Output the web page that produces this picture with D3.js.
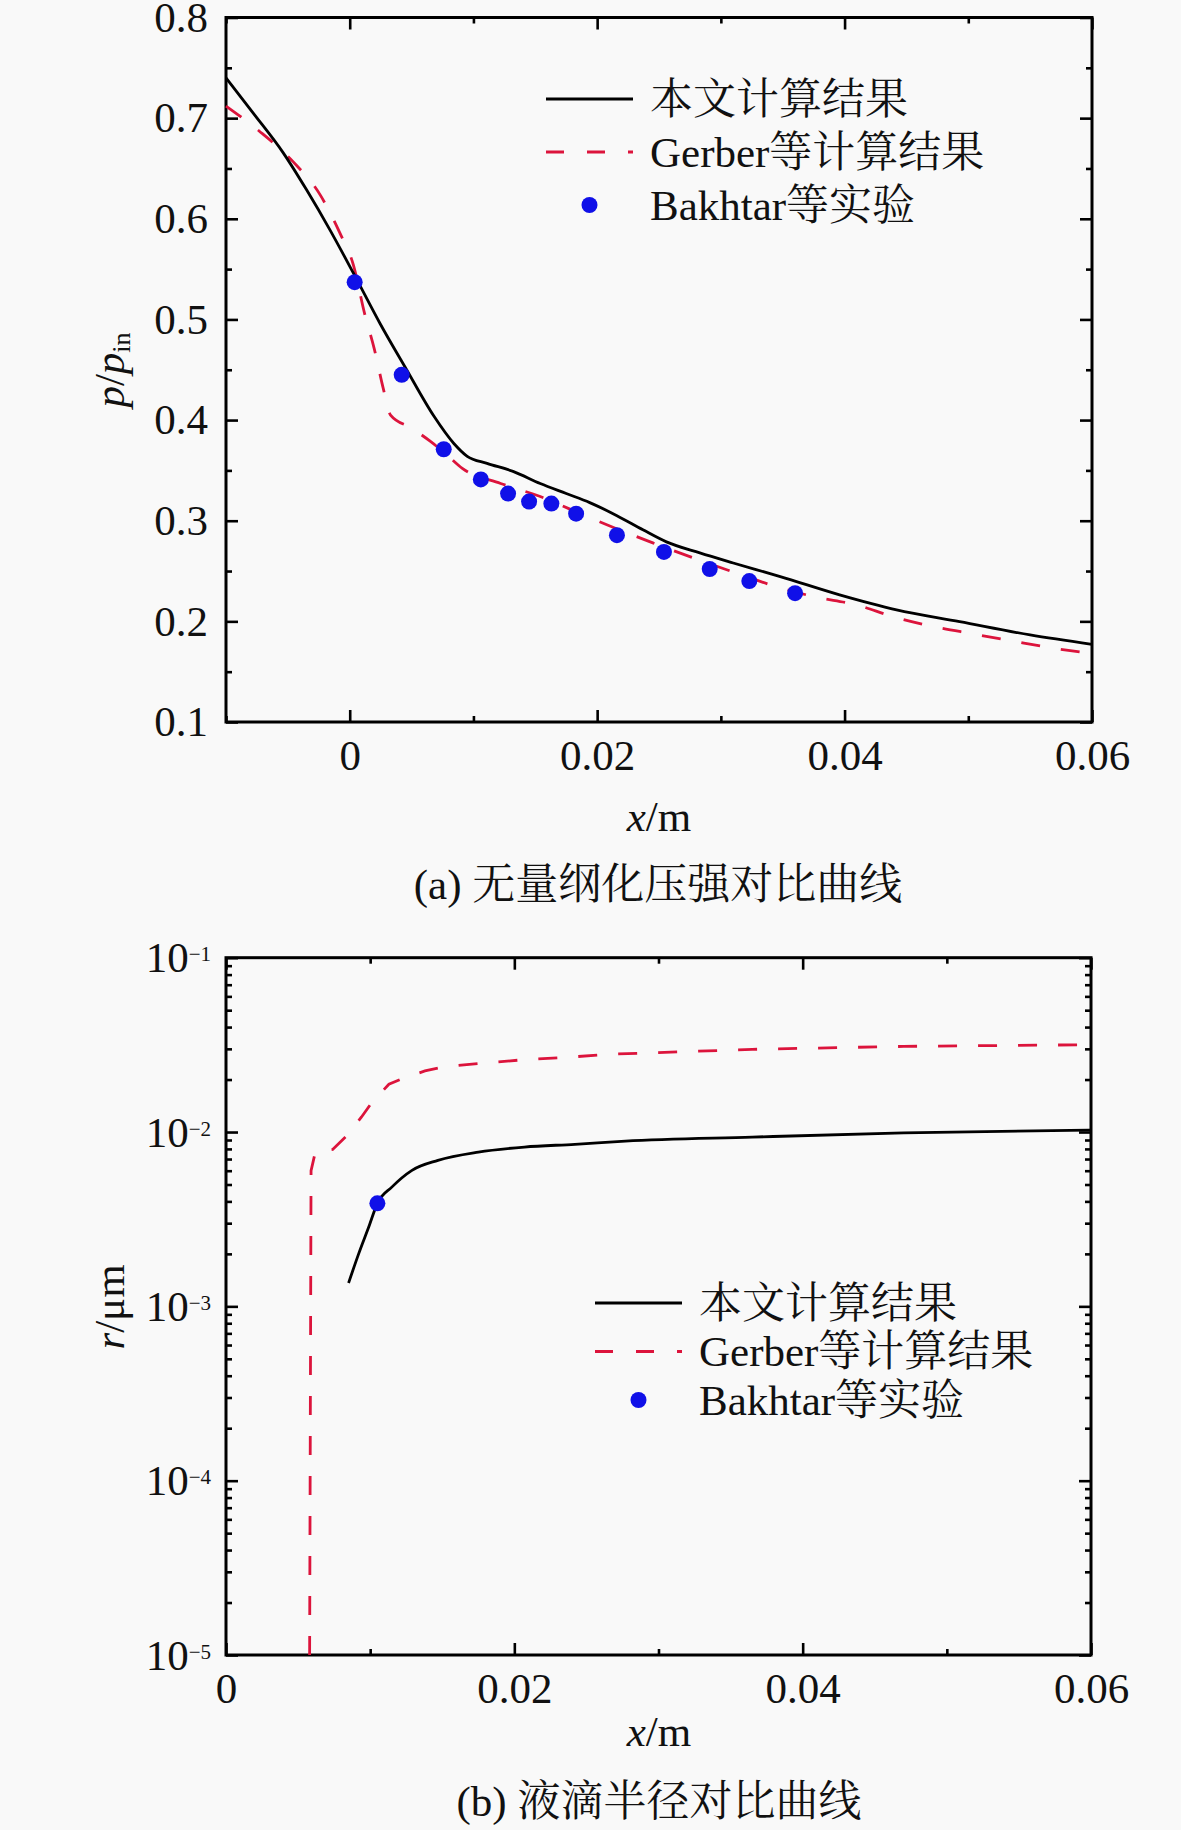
<!DOCTYPE html>
<html><head><meta charset="utf-8">
<script src="https://cdn.jsdelivr.net/npm/d3@7/dist/d3.min.js"></script>
<style>html,body{margin:0;padding:0;background:#f9f9f9;}svg{display:block;}</style>
</head><body>
<script>
// ---------- data ----------
const legendLabels = ["本文计算结果", "Gerber等计算结果", "Bakhtar等实验"];

// panel (a): p/p_in vs x
const aXTicks = [0, 0.02, 0.04, 0.06];
const aXMinor = [-0.01, 0.01, 0.03, 0.05];
const aYTicks = [0.1, 0.2, 0.3, 0.4, 0.5, 0.6, 0.7, 0.8];
const aYMinor = [0.15, 0.25, 0.35, 0.45, 0.55, 0.65, 0.75];
const aSolid = [[-0.01,0.740],[-0.0078,0.705],[-0.0054,0.666],[-0.0035,0.629],[-0.0016,0.589],[0.0003,0.546],[0.00245,0.496],[0.0046,0.450],[0.0068,0.404],[0.0084,0.377],[0.0095,0.364],[0.0111,0.357],[0.0132,0.349],[0.0154,0.337],[0.0175,0.327],[0.0194,0.318],[0.0216,0.305],[0.0237,0.291],[0.0256,0.279],[0.0283,0.268],[0.031,0.258],[0.0348,0.2445],[0.0396,0.2263],[0.0442,0.2114],[0.0493,0.1997],[0.055,0.1865],[0.06,0.1772]];
const aDash = [[-0.01,0.712],[-0.0073,0.687],[-0.0046,0.657],[-0.0024,0.624],[-0.0008,0.586],[0.0003,0.554],[0.0012,0.506],[0.0020,0.470],[0.0027,0.432],[0.0033,0.405],[0.0050,0.392],[0.0065,0.379],[0.0078,0.366],[0.0091,0.352],[0.0122,0.337],[0.0154,0.324],[0.0192,0.304],[0.0224,0.288],[0.0245,0.278],[0.0278,0.263],[0.031,0.249],[0.0345,0.2345],[0.0375,0.2246],[0.041,0.2163],[0.0439,0.2047],[0.0472,0.1948],[0.0504,0.1875],[0.0538,0.1799],[0.0569,0.1733],[0.06,0.168]];
const aPoints = [[0.0004,0.537],[0.0042,0.445],[0.0076,0.371],[0.0106,0.341],[0.0128,0.327],[0.0145,0.319],[0.0163,0.317],[0.0183,0.307],[0.0216,0.2856],[0.0254,0.269],[0.0291,0.252],[0.0323,0.240],[0.0360,0.228]];

// panel (b): r/um vs x (log)
const bXTicks = [0, 0.02, 0.04, 0.06];
const bXMinor = [0.01, 0.03, 0.05];
const bYTicks = [1e-5, 1e-4, 1e-3, 1e-2, 1e-1];
const bYExp = ["−5", "−4", "−3", "−2", "−1"];
const bSolid = [[0.0085,1.36e-3],[0.0092,2.0e-3],[0.0099,2.85e-3],[0.0105,3.9e-3],[0.0115,4.83e-3],[0.0129,6.03e-3],[0.0147,6.88e-3],[0.0175,7.67e-3],[0.0207,8.2e-3],[0.0242,8.5e-3],[0.0277,8.87e-3],[0.0365,9.35e-3],[0.047,9.89e-3],[0.06,1.026e-2]];
const bDash = [[0.0058,1e-5],[0.0059,6e-3],[0.0062,7.7e-3],[0.0074,7.95e-3],[0.0083,9.4e-3],[0.0094,1.22e-2],[0.0101,1.47e-2],[0.0113,1.88e-2],[0.0124,2.05e-2],[0.0138,2.24e-2],[0.0151,2.37e-2],[0.018,2.49e-2],[0.0209,2.61e-2],[0.0236,2.68e-2],[0.0264,2.79e-2],[0.0365,2.98e-2],[0.047,3.10e-2],[0.06,3.17e-2]];
const bPoints = [[0.0105,3.9e-3]];

// ---------- drawing ----------
const W = 1181, H = 1830;
const SERIF = "'Liberation Serif','Times New Roman','Noto Serif CJK SC','Noto Sans CJK SC',serif";
const RED = "#dc143c", BLUE = "#1010e8";
const svg = d3.select("body").append("svg").attr("width", W).attr("height", H);
svg.append("rect").attr("width", W).attr("height", H).attr("fill", "#f9f9f9");

function styleAxis(g, showText) {
  g.select(".domain").remove();
  g.selectAll("line").attr("stroke", "#000").attr("stroke-width", 2.6);
  g.selectAll("text").attr("font-family", SERIF).attr("font-size", 43).attr("fill", "#111");
  if (!showText) g.selectAll("text").remove();
}

function frame(x, y, box, opts) {
  const {l, r, t, b} = box;
  // bottom major + minor
  svg.append("g").attr("transform", `translate(0,${b})`)
    .call(d3.axisBottom(x).tickValues(opts.xMajor).tickSize(-12).tickSizeOuter(0).tickPadding(17).tickFormat(opts.xFmt))
    .call(g => styleAxis(g, true));
  svg.append("g").attr("transform", `translate(0,${b})`)
    .call(d3.axisBottom(x).tickValues(opts.xMinor).tickSize(-6).tickSizeOuter(0).tickFormat(""))
    .call(g => styleAxis(g, false));
  // top mirror
  svg.append("g").attr("transform", `translate(0,${t})`)
    .call(d3.axisTop(x).tickValues(opts.xMajor).tickSize(-12).tickSizeOuter(0).tickFormat(""))
    .call(g => styleAxis(g, false));
  svg.append("g").attr("transform", `translate(0,${t})`)
    .call(d3.axisTop(x).tickValues(opts.xMinor).tickSize(-6).tickSizeOuter(0).tickFormat(""))
    .call(g => styleAxis(g, false));
  // left
  svg.append("g").attr("transform", `translate(${l},0)`)
    .call(d3.axisLeft(y).tickValues(opts.yMajor).tickSize(-12).tickSizeOuter(0).tickPadding(18).tickFormat(opts.yFmt || ""))
    .call(g => styleAxis(g, !!opts.yFmt));
  svg.append("g").attr("transform", `translate(${l},0)`)
    .call(d3.axisLeft(y).tickValues(opts.yMinor).tickSize(-6).tickSizeOuter(0).tickFormat(""))
    .call(g => styleAxis(g, false));
  // right mirror
  svg.append("g").attr("transform", `translate(${r},0)`)
    .call(d3.axisRight(y).tickValues(opts.yMajor).tickSize(-12).tickSizeOuter(0).tickFormat(""))
    .call(g => styleAxis(g, false));
  svg.append("g").attr("transform", `translate(${r},0)`)
    .call(d3.axisRight(y).tickValues(opts.yMinor).tickSize(-6).tickSizeOuter(0).tickFormat(""))
    .call(g => styleAxis(g, false));
  svg.append("rect").attr("x", l).attr("y", t).attr("width", r - l).attr("height", b - t)
    .attr("fill", "none").attr("stroke", "#000").attr("stroke-width", 3);
}

function drawSeries(x, y, solid, dash, pts, dashCurve) {
  const lineS = d3.line().x(d => x(d[0])).y(d => y(d[1])).curve(d3.curveMonotoneX);
  const lineD = d3.line().x(d => x(d[0])).y(d => y(d[1])).curve(dashCurve);
  svg.append("path").datum(dash).attr("d", lineD).attr("fill", "none")
    .attr("stroke", RED).attr("stroke-width", 2.8).attr("stroke-dasharray", "19,21");
  svg.append("path").datum(solid).attr("d", lineS).attr("fill", "none")
    .attr("stroke", "#000").attr("stroke-width", 2.8);
  svg.append("g").selectAll("circle").data(pts).join("circle")
    .attr("cx", d => x(d[0])).attr("cy", d => y(d[1])).attr("r", 8).attr("fill", BLUE);
}

function legend(x0, y0, dy) {
  const lx1 = x0, lx2 = x0 + 87, tx = x0 + 104;
  svg.append("line").attr("x1", lx1).attr("x2", lx2).attr("y1", y0).attr("y2", y0)
    .attr("stroke", "#000").attr("stroke-width", 2.8);
  svg.append("line").attr("x1", lx1).attr("x2", lx2).attr("y1", y0 + dy).attr("y2", y0 + dy)
    .attr("stroke", RED).attr("stroke-width", 2.8).attr("stroke-dasharray", "18,23");
  svg.append("circle").attr("cx", (lx1 + lx2) / 2).attr("cy", y0 + 2 * dy).attr("r", 8).attr("fill", BLUE);
  legendLabels.forEach((s, i) => {
    svg.append("text").attr("x", tx).attr("y", y0 + i * dy).attr("dominant-baseline", "central")
      .attr("font-family", SERIF).attr("font-size", 43).attr("fill", "#111").text(s);
  });
}

// ---- panel (a)
const boxA = {l: 226, r: 1092, t: 17.5, b: 722};
const xa = d3.scaleLinear().domain([-0.01, 0.06]).range([boxA.l, boxA.r]);
const ya = d3.scaleLinear().domain([0.1, 0.8]).range([boxA.b, boxA.t]);
const fmtX = d => d === 0 ? "0" : d3.format(".2f")(d);
frame(xa, ya, boxA, {xMajor: aXTicks, xMinor: aXMinor, yMajor: aYTicks, yMinor: aYMinor, xFmt: fmtX, yFmt: d3.format(".1f")});
drawSeries(xa, ya, aSolid, aDash, aPoints, d3.curveMonotoneX);
legend(546, 99, 53);

// y title (a)
{
  const t = svg.append("text").attr("transform", "translate(124,370) rotate(-90)")
    .attr("text-anchor", "middle").attr("font-family", SERIF).attr("font-size", 43).attr("fill", "#111");
  t.append("tspan").attr("font-style", "italic").text("p");
  t.append("tspan").text("/");
  t.append("tspan").attr("font-style", "italic").text("p");
  t.append("tspan").attr("font-size", 26).attr("dy", 6).text("in");
}
svg.append("text").attr("x", 659).attr("y", 831).attr("text-anchor", "middle")
  .attr("font-family", SERIF).attr("font-size", 43).attr("fill", "#111")
  .call(t => { t.append("tspan").attr("font-style", "italic").text("x"); t.append("tspan").text("/m"); });
svg.append("text").attr("x", 658).attr("y", 884).attr("text-anchor", "middle").attr("dominant-baseline", "central")
  .attr("font-family", SERIF).attr("font-size", 43).attr("fill", "#111").text("(a) 无量纲化压强对比曲线");

// ---- panel (b)
const boxB = {l: 226, r: 1091, t: 957.7, b: 1655};
const xb = d3.scaleLinear().domain([0, 0.06]).range([boxB.l, boxB.r]);
const yb = d3.scaleLog().domain([1e-5, 1e-1]).range([boxB.b, boxB.t]);
const bYMinor = [];
bYTicks.slice(0, -1).forEach(d => { for (let k = 2; k <= 9; k++) bYMinor.push(d * k); });
frame(xb, yb, boxB, {xMajor: bXTicks, xMinor: bXMinor, yMajor: bYTicks, yMinor: bYMinor, xFmt: fmtX, yFmt: null});
// log tick labels with superscripts
bYTicks.forEach((v, i) => {
  const t = svg.append("text").attr("x", 211).attr("y", yb(v) + 14.5).attr("text-anchor", "end")
    .attr("font-family", SERIF).attr("font-size", 43).attr("fill", "#111");
  t.append("tspan").text("10");
  t.append("tspan").attr("font-size", 21).attr("dy", -11).text(bYExp[i]);
});
drawSeries(xb, yb, bSolid, bDash, bPoints, d3.curveLinear);
legend(595, 1303, 48.5);

{
  const t = svg.append("text").attr("transform", "translate(124,1307) rotate(-90)")
    .attr("text-anchor", "middle").attr("font-family", SERIF).attr("font-size", 43).attr("fill", "#111");
  t.append("tspan").attr("font-style", "italic").text("r");
  t.append("tspan").text("/μm");
}
svg.append("text").attr("x", 659).attr("y", 1746).attr("text-anchor", "middle")
  .attr("font-family", SERIF).attr("font-size", 43).attr("fill", "#111")
  .call(t => { t.append("tspan").attr("font-style", "italic").text("x"); t.append("tspan").text("/m"); });
svg.append("text").attr("x", 659).attr("y", 1801).attr("text-anchor", "middle").attr("dominant-baseline", "central")
  .attr("font-family", SERIF).attr("font-size", 43).attr("fill", "#111").text("(b) 液滴半径对比曲线");
</script>
</body></html>
